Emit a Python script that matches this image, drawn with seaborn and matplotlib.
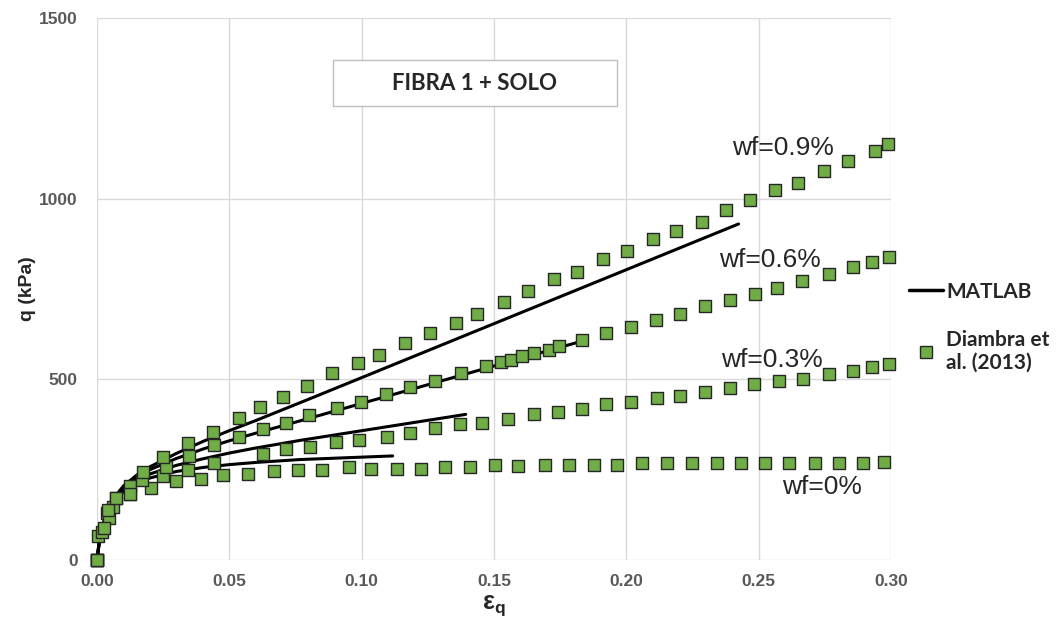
import numpy as np
import pandas as pd
import matplotlib
matplotlib.use('Agg')
from matplotlib import pyplot as plt
from matplotlib.lines import Line2D
from matplotlib.patches import Rectangle
import seaborn as sns

# %% Data (eps_q, q in kPa)
series = ["wf=0%", "wf=0.3%", "wf=0.6%", "wf=0.9%"]

# Diambra et al. (2013) points
eps_0 = [0, 0.0005, 0.0037, 0.0125, 0.0204, 0.0297, 0.0393, 0.0475, 0.0570, 0.0669,
         0.0761, 0.0851, 0.0954, 0.1034, 0.1133, 0.1223, 0.1315, 0.1410, 0.1504,
         0.1592, 0.1691, 0.1784, 0.1878, 0.1966, 0.2061, 0.2153, 0.2248, 0.2342,
         0.2434, 0.2525, 0.2616, 0.2711, 0.2805, 0.2896, 0.2974]
q_0 = [0, 66, 129, 182, 200, 219, 224, 235, 238, 246,
       249, 249, 257, 253, 253, 253, 257, 258, 262,
       260, 263, 263, 263, 263, 268, 268, 268, 268,
       268, 268, 268, 268, 268, 268, 270]

eps_3 = [0, 0.0020, 0.0045, 0.0072, 0.0125, 0.0251, 0.0345, 0.0443, 0.0626, 0.0714,
         0.0805, 0.0903, 0.0991, 0.1095, 0.1184, 0.1277, 0.1372, 0.1455, 0.1554,
         0.1653, 0.1741, 0.1832, 0.1924, 0.2018, 0.2115, 0.2201, 0.2298, 0.2392,
         0.2483, 0.2575, 0.2666, 0.2764, 0.2856, 0.2930, 0.2993]
q_3 = [0, 78, 115, 171, 205, 232, 249, 268, 293, 306,
       314, 327, 332, 341, 352, 364, 376, 380, 389,
       403, 410, 417, 432, 438, 449, 455, 466, 477,
       486, 495, 500, 514, 524, 535, 542]

eps_6 = [0, 0.0028, 0.0062, 0.0125, 0.0169, 0.0260, 0.0349, 0.0443, 0.0537, 0.0626,
         0.0714, 0.0802, 0.0908, 0.0997, 0.1091, 0.1184, 0.1277, 0.1376, 0.1470,
         0.1525, 0.1564, 0.1605, 0.1653, 0.1706, 0.1747, 0.1832, 0.1924, 0.2018,
         0.2111, 0.2201, 0.2298, 0.2392, 0.2487, 0.2571, 0.2665, 0.2764, 0.2856,
         0.2928, 0.2993]
q_6 = [0, 88, 146, 182, 221, 258, 288, 318, 341, 362,
       380, 401, 420, 438, 459, 478, 495, 517, 538,
       547, 553, 564, 572, 581, 592, 609, 627, 646,
       664, 681, 703, 720, 736, 752, 773, 791, 812,
       824, 839]

eps_9 = [0, 0.0043, 0.0072, 0.0175, 0.0251, 0.0345, 0.0440, 0.0537, 0.0616, 0.0702,
         0.0793, 0.0889, 0.0988, 0.1067, 0.1165, 0.1260, 0.1357, 0.1437, 0.1536,
         0.1630, 0.1727, 0.1813, 0.1911, 0.2004, 0.2102, 0.2187, 0.2285, 0.2376,
         0.2468, 0.2562, 0.2647, 0.2745, 0.2839, 0.2940, 0.2988]
q_9 = [0, 138, 171, 243, 284, 325, 355, 394, 424, 452,
       482, 517, 544, 568, 601, 629, 657, 681, 715,
       745, 777, 798, 832, 856, 888, 911, 935, 969,
       996, 1024, 1044, 1077, 1105, 1133, 1150]

# MATLAB curves
m_eps_0 = [0, 0.001, 0.003, 0.006, 0.01, 0.015, 0.02, 0.03, 0.04, 0.05, 0.06, 0.0767, 0.1117]
m_q_0 = [0, 57, 110, 156, 189, 212, 227, 245, 256, 264, 270, 278, 288]
m_eps_3 = [0, 0.001, 0.003, 0.006, 0.01, 0.015, 0.02, 0.03, 0.04, 0.05, 0.06, 0.0767, 0.1393]
m_q_3 = [0, 58, 113, 160, 194, 220, 238, 262, 280, 296, 310, 331, 403]
m_eps_6 = [0, 0.001, 0.003, 0.006, 0.01, 0.015, 0.02, 0.03, 0.04, 0.05, 0.06, 0.0767, 0.1848]
m_q_6 = [0, 60, 116, 164, 200, 228, 250, 281, 307, 330, 351, 385, 609]
m_eps_9 = [0, 0.001, 0.003, 0.006, 0.01, 0.015, 0.02, 0.03, 0.04, 0.05, 0.06, 0.08, 0.2424]
m_q_9 = [0, 60, 118, 168, 205, 235, 258, 295, 328, 358, 386, 445, 930]

label_x = [0.274, 0.2551, 0.2543, 0.2593]
label_y = [202, 553, 830, 1140]

xticks = [0.00, 0.05, 0.10, 0.15, 0.20, 0.25, 0.30]
yticks = [0, 500, 1000, 1500]

GREEN = "#70ad47"
GRID = "#d9d9d9"
TICK = "#595959"


def buildFrames():
    pts = pd.concat([
        pd.DataFrame({"eps": e, "q": q, "wf": s})
        for e, q, s in zip([eps_0, eps_3, eps_6, eps_9], [q_0, q_3, q_6, q_9], series)])
    model = pd.concat([
        pd.DataFrame({"eps": e, "q": q, "wf": s})
        for e, q, s in zip([m_eps_0, m_eps_3, m_eps_6, m_eps_9],
                           [m_q_0, m_q_3, m_q_6, m_q_9], series)])
    return pts, model


def fig():
    my_dpi = 100
    f = plt.figure(figsize=(1056/my_dpi, 628/my_dpi), dpi=my_dpi)
    ax = f.add_axes([97/1056, 1-560/628, (891-97)/1056, (560-18)/628])
    return f, ax


if __name__ == "__main__":
    sns.set_style("white")
    plt.rcParams['font.family'] = ['Liberation Sans', 'DejaVu Sans']

    pts, model = buildFrames()
    f, ax = fig()

    for s in series:
        sns.lineplot(data=model[model.wf == s], x="eps", y="q", sort=False,
                     color="black", linewidth=2.2, ax=ax, legend=False,
                     clip_on=False, zorder=3)
    sns.scatterplot(data=pts, x="eps", y="q", marker="s", s=64, color=GREEN,
                    edgecolor="#262626", linewidth=1.0, ax=ax, legend=False,
                    clip_on=False, zorder=4)

    ax.set_xlim(0, 0.30)
    ax.set_ylim(0, 1500)
    ax.set_xticks(xticks)
    ax.set_xticklabels(["%.2f" % t for t in xticks])
    ax.set_yticks(yticks)
    ax.grid(True, color=GRID, linewidth=1.0)
    ax.set_axisbelow(True)
    for sp in ax.spines.values():
        sp.set_visible(False)
    ax.tick_params(length=0, labelsize=12.5, labelcolor=TICK)
    ax.tick_params(axis="y", pad=14)
    ax.tick_params(axis="x", pad=10)
    for lab in ax.get_xticklabels() + ax.get_yticklabels():
        lab.set_fontweight("bold")

    ax.set_ylabel("q (kPa)", fontsize=14, fontweight="bold", labelpad=2)
    ax.set_xlabel("ε$_{\\mathregular{q}}$", fontsize=18, fontweight="bold", labelpad=3)

    for s, lx, ly in zip(series, label_x, label_y):
        ax.text(lx, ly, s, fontsize=19, ha="center", va="center", color="#262626")

    # title box
    f.patches.append(Rectangle((333/1056, 1-106/628), (617-333)/1056, 46/628,
                               transform=f.transFigure, facecolor="white",
                               edgecolor="#bfbfbf", linewidth=1.0, zorder=5))
    f.text(475/1056, 1-83/628, "FIBRA 1 + SOLO", fontsize=16, fontweight="bold",
           family=["Lato", "DejaVu Sans"], ha="center", va="center", zorder=6)

    handles = [Line2D([], [], color="black", linewidth=2.5),
               Line2D([], [], linestyle="none", marker="s", markersize=8,
                      markerfacecolor=GREEN, markeredgecolor="#262626")]
    f.legend(handles, ["MATLAB", "Diambra et\nal. (2013)"], loc="upper left",
             bbox_to_anchor=(0.853, 0.565), frameon=False, handlelength=1.65,
             handletextpad=0.12, labelspacing=1.35, borderaxespad=0.0,
             prop={"family": ["Lato", "DejaVu Sans"], "weight": "bold", "size": 15})

    plt.savefig("out.png", dpi=100)
    plt.close()
